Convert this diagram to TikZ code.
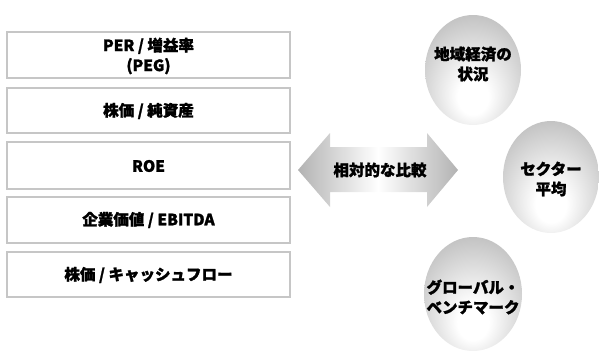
\documentclass[tikz,border=0pt]{standalone}
\usepackage{fontspec}
\setmainfont{Noto Sans CJK JP}[BoldFeatures={FakeBold=1.5}]
\usetikzlibrary{shadings}
\pgfdeclareradialshading{ballshade}{\pgfpoint{0bp}{-14bp}}{color(0bp)=(white);color(8bp)=(white);color(50bp)=(gray!82);color(64bp)=(gray!85)}
\begin{document}
\begin{tikzpicture}[x=1pt,y=-1pt,
  box/.style={draw=gray!45,line width=1.6pt,fill=white},
  lbl/.style={font=\fontsize{15.5}{20}\selectfont\bfseries,align=center,inner sep=0pt},
  ball/.style={shading=ballshade}]
\useasboundingbox (0,0) rectangle (599,351);
% boxes
\draw[box] (7,32) rectangle (290,78);
\draw[box] (7,88) rectangle (290,133);
\draw[box] (7,142) rectangle (290,189);
\draw[box] (7,197) rectangle (290,243);
\draw[box] (7,252) rectangle (290,297);
\node[lbl] (b1) at (148.5,56) {PER / 増益率\\(PEG)};
\node[lbl] (b2) at (148.5,111) {株価 / 純資産};
\node[lbl] (b3) at (148.5,166) {ROE};
\node[lbl] (b4) at (148.5,220) {企業価値 / EBITDA};
\node[lbl] (b5) at (148.5,275) {株価 / キャッシュフロー};
% double arrow
\shade[left color=gray!60,right color=gray!60,middle color=white]
  (298,170) -- (330,133) -- (330,147) -- (427,147) -- (427,133) -- (458,170)
  -- (427,207) -- (427,192) -- (330,192) -- (330,207) -- cycle;
\node[lbl] (arr) at (380,170) {相対的な比較};
% balls
\path[ball] (473,70) ellipse [x radius=48, y radius=55];
\path[ball] (551,177) ellipse [x radius=48, y radius=56];
\path[ball] (473,294) ellipse [x radius=49, y radius=57];
\node[lbl] (c1) at (473,64) {地域経済の\\状況};
\node[lbl] (c2) at (551,179) {セクター\\平均};
\node[lbl] (c3) at (473,297) {グローバル・\\ベンチマーク};
\end{tikzpicture}
\end{document}
